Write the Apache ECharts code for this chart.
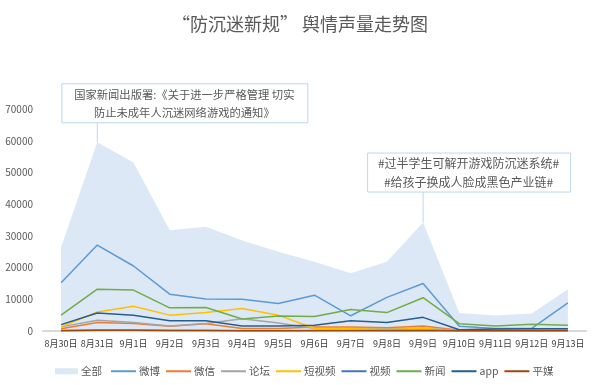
<!DOCTYPE html>
<html>
<head>
<meta charset="utf-8">
<script src="https://cdn.jsdelivr.net/npm/echarts@6/dist/echarts.min.js"></script>
<style>
html,body{margin:0;padding:0;background:#fff;}
#c{width:600px;height:385px;}
</style>
</head>
<body>
<div id="c"></div>
<script>
var categories = ['8月30日','8月31日','9月1日','9月2日','9月3日','9月4日','9月5日','9月6日','9月7日','9月8日','9月9日','9月10日','9月11日','9月12日','9月13日'];
var yTicks = [0, 10000, 20000, 30000, 40000, 50000, 60000, 70000];
var quanbu    = [26500, 59500, 53100, 31800, 32900, 28500, 25000, 21800, 18200, 21800, 34200, 5700, 4900, 5500, 13200];
var weibo     = [15200, 27100, 20500, 11600, 10100, 10000, 8700, 11300, 4800, 10600, 15000, 1500, 800, 800, 8900];
var weixin    = [700, 2700, 2400, 1500, 2300, 800, 800, 1300, 1300, 1000, 1600, 200, 200, 200, 300];
var luntan    = [1300, 3400, 2700, 1600, 2400, 3900, 2500, 800, 900, 700, 900, 200, 200, 300, 300];
var duanshipin= [1300, 6000, 7800, 5000, 5800, 7100, 5000, 800, 700, 500, 800, 100, 150, 150, 200];
var shipin    = [150, 200, 200, 150, 150, 100, 100, 150, 150, 150, 200, 100, 100, 100, 100];
var xinwen    = [5000, 13200, 12900, 7300, 7400, 3800, 4700, 4600, 6800, 5800, 10500, 2300, 1600, 2100, 1800];
var app       = [2000, 5700, 5000, 3200, 3200, 1600, 1600, 1800, 3200, 2700, 4300, 400, 600, 700, 700];
var pingmei   = [100, 200, 200, 150, 150, 100, 100, 100, 100, 100, 100, 50, 50, 50, 50];
var seriesNames = ['全部','微博','微信','论坛','短视频','视频','新闻','app','平媒'];
var seriesColors = ['#DCE8F5','#5B9BD5','#ED7D31','#A5A5A5','#FFC000','#4472C4','#70AD47','#255E91','#9E480E'];
var note1 = ['国家新闻出版署:《关于进一步严格管理 切实', '防止未成年人沉迷网络游戏的通知》'];
var note2 = ['#过半学生可解开游戏防沉迷系统#', '#给孩子换成人脸成黑色产业链#'];

var FONT = '"Noto Sans CJK SC", "Noto Sans", sans-serif';
var chart = echarts.init(document.getElementById('c'), null, {renderer: 'canvas'});
var dataSets = [quanbu, weibo, weixin, luntan, duanshipin, shipin, xinwen, app, pingmei];

var series = dataSets.map(function (d, i) {
  var s = {
    name: seriesNames[i],
    type: 'line',
    data: d,
    symbol: 'none',
    smooth: false,
    color: seriesColors[i],
    lineStyle: {width: 1.5, color: seriesColors[i]},
    emphasis: {disabled: true},
    z: 2 + i
  };
  if (i === 0) {
    s.lineStyle = {width: 0, opacity: 0};
    s.areaStyle = {color: seriesColors[0], opacity: 1};
    s.z = 1;
  }
  return s;
});

chart.setOption({
  animation: false,
  backgroundColor: '#ffffff',
  title: {
    text: '“防沉迷新规” 舆情声量走势图',
    left: 'center',
    top: 15,
    padding: 0,
    textStyle: {fontFamily: FONT, fontSize: 18, fontWeight: 'normal', color: '#595959'}
  },
  grid: {left: 43, right: 14, top: 109, bottom: 54},
  legend: [{
    data: [seriesNames[0]],
    left: 50, top: 361,
    icon: 'rect', itemWidth: 23, itemHeight: 6,
    textStyle: {fontFamily: FONT, fontSize: 10.5, color: '#595959', padding: [0, 0, 0, -2]}
  }, {
    data: seriesNames.slice(1),
    left: 106, top: 361,
    icon: 'rect', itemWidth: 25, itemHeight: 2, itemGap: 6,
    textStyle: {fontFamily: FONT, fontSize: 10.5, color: '#595959', padding: [0, 0, 0, -2]}
  }],
  xAxis: {
    type: 'category',
    data: categories,
    boundaryGap: true,
    axisLine: {lineStyle: {color: '#D9D9D9', width: 2}},
    axisTick: {show: false},
    axisLabel: {fontFamily: FONT, fontSize: 9, color: '#404040', margin: 8, interval: 0}
  },
  yAxis: {
    type: 'value',
    min: yTicks[0], max: yTicks[yTicks.length - 1], interval: yTicks[1] - yTicks[0],
    axisLine: {show: false},
    axisTick: {show: false},
    splitLine: {show: false},
    axisLabel: {fontFamily: FONT, fontSize: 10, color: '#595959', margin: 10,
      formatter: function (v) { return String(v); }}
  },
  series: series
});

function noteGraphic(anchorIdx, lines, dx, dy, w, h, fontSize) {
  var p = chart.convertToPixel({seriesIndex: 0}, [anchorIdx, quanbu[anchorIdx]]);
  var left = p[0] + dx, top = p[1] + dy;
  return [{
    type: 'line', z: 100,
    shape: {x1: p[0], y1: top + h, x2: p[0], y2: p[1]},
    style: {stroke: '#BDD7EE', lineWidth: 1}
  }, {
    type: 'rect', z: 100,
    shape: {x: left + 0.5, y: top + 0.5, width: w, height: h},
    style: {fill: '#ffffff', stroke: '#BDD7EE', lineWidth: 1}
  }, {
    type: 'text', z: 101,
    style: {text: lines[0], x: left + w / 2, y: top + h * 0.28, align: 'center', verticalAlign: 'middle',
      font: fontSize + 'px ' + FONT, fill: '#595959'}
  }, {
    type: 'text', z: 101,
    style: {text: lines[1], x: left + w / 2, y: top + h * 0.76, align: 'center', verticalAlign: 'middle',
      font: fontSize + 'px ' + FONT, fill: '#595959'}
  }];
}

chart.setOption({
  graphic: noteGraphic(1, note1, -36, -59, 246, 39, 11.3).concat(noteGraphic(10, note2, -56, -70, 203, 39, 12))
});
</script>
</body>
</html>
